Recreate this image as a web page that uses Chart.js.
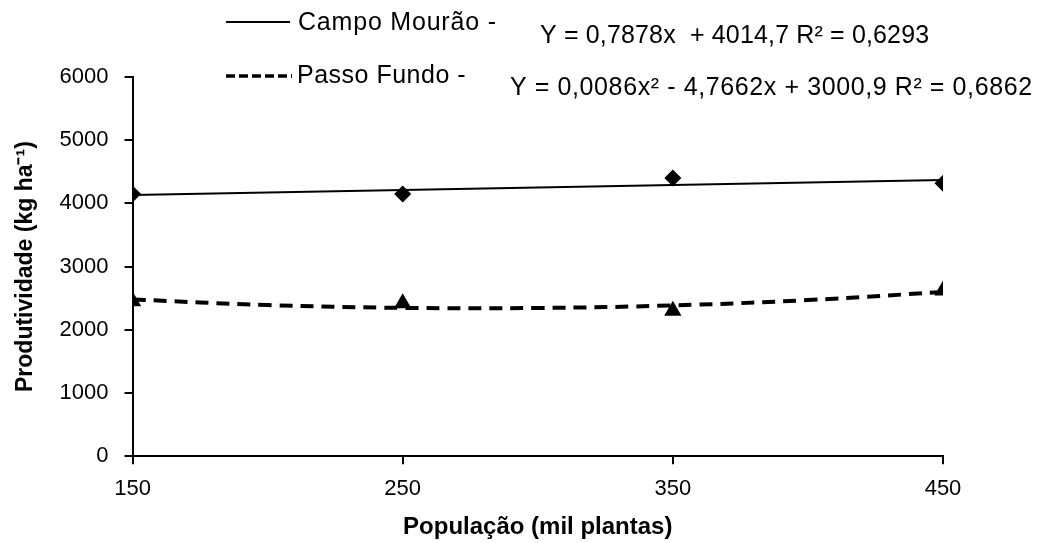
<!DOCTYPE html>
<html>
<head>
<meta charset="utf-8">
<script src="https://cdn.jsdelivr.net/npm/chart.js@4"></script>
<style>
  html, body { margin: 0; padding: 0; background: #fff; }
  #wrap { width: 1038px; height: 543px; }
</style>
</head>
<body>
<div id="wrap"><canvas id="myChart" width="1038" height="543"></canvas></div>
<script>
// population (mil plantas)
const populacao = [150, 250, 350, 450];
const campoMourao = [4150, 4150, 4400, 4320];
const passoFundo = [2450, 2420, 2300, 2620];
// trend lines
const campoTrendX = [150, 450];
const campoTrend = [4133, 4369];
const passoTrendX = [150, 200, 250, 300, 350, 400, 450];
const passoTrend = [2480, 2392, 2347, 2345, 2386, 2470, 2598];
const yTicks = [0, 1000, 2000, 3000, 4000, 5000, 6000];
const xTicks = [150, 250, 350, 450];

const FONT = '"Liberation Sans", Arial, sans-serif';
const toPoints = (xs, ys) => xs.map((x, i) => ({ x: x, y: ys[i] }));

const legendPlugin = {
    id: 'legendEq',
    afterDraw(chart) {
        const c = chart.ctx;
        c.save();
        c.strokeStyle = '#000';
        c.fillStyle = '#000';
        c.font = '25px ' + FONT;
        c.textBaseline = 'middle';

        // Campo Mourão
        c.lineWidth = 2;
        c.setLineDash([]);
        c.beginPath();
        c.moveTo(226, 22);
        c.lineTo(290, 22);
        c.stroke();
        c.letterSpacing = '0.8px';
        c.fillText('Campo Mourão -', 298, 23);
        c.letterSpacing = '0.15px';
        c.fillText('Y = 0,7878x  + 4014,7 R² = 0,6293', 540, 36);

        // Passo Fundo
        c.lineWidth = 3.5;
        c.setLineDash([9, 4]);
        c.beginPath();
        c.moveTo(226, 76);
        c.lineTo(292, 76);
        c.stroke();
        c.setLineDash([]);
        c.letterSpacing = '0.5px';
        c.fillText('Passo Fundo -', 297, 76);
        c.letterSpacing = '0.6px';
        c.fillText('Y = 0,0086x² - 4,7662x + 3000,9 R² = 0,6862', 510, 88);
        c.restore();
    }
};

const ctx = document.getElementById('myChart');

new Chart(ctx, {
    type: 'scatter',
    data: {
        datasets: [
            {
                label: 'Campo Mourão trend',
                data: toPoints(campoTrendX, campoTrend),
                showLine: true,
                borderColor: '#000',
                borderWidth: 2,
                pointRadius: 0
            },
            {
                label: 'Passo Fundo trend',
                data: toPoints(passoTrendX, passoTrend),
                showLine: true,
                borderColor: '#000',
                borderWidth: 4,
                borderDash: [13, 8],
                tension: 0.4,
                pointRadius: 0
            },
            {
                label: 'Campo Mourão',
                data: toPoints(populacao, campoMourao),
                pointStyle: 'rectRot',
                pointRadius: 8.5,
                backgroundColor: '#000',
                borderColor: '#000',
                borderWidth: 0
            },
            {
                label: 'Passo Fundo',
                data: toPoints(populacao, passoFundo),
                pointStyle: 'triangle',
                pointRadius: 10,
                backgroundColor: '#000',
                borderColor: '#000',
                borderWidth: 0
            }
        ]
    },
    options: {
        responsive: false,
        animation: false,
        devicePixelRatio: 1,
        layout: { padding: { top: 77, left: 4, right: 95, bottom: 0 } },
        plugins: {
            legend: { display: false },
            tooltip: { enabled: false }
        },
        scales: {
            x: {
                type: 'linear',
                min: 150,
                max: 450,
                afterBuildTicks: axis => { axis.ticks = xTicks.map(v => ({ value: v })); },
                border: { display: true, color: '#000', width: 2 },
                grid: { drawOnChartArea: false, drawTicks: true, tickLength: 8, color: '#000', lineWidth: 2 },
                ticks: {
                    color: '#000',
                    font: { family: FONT, size: 22 },
                    padding: 12,
                    maxRotation: 0,
                    callback: v => String(v)
                },
                title: {
                    display: true,
                    text: 'População (mil plantas)',
                    color: '#000',
                    font: { family: FONT, size: 24, weight: 'bold', lineHeight: 1.1 },
                    padding: { top: 0, bottom: 2 }
                }
            },
            y: {
                min: 0,
                max: 6000,
                afterBuildTicks: axis => { axis.ticks = yTicks.map(v => ({ value: v })); },
                border: { display: true, color: '#000', width: 2 },
                grid: { drawOnChartArea: false, drawTicks: true, tickLength: 8, color: '#000', lineWidth: 2 },
                ticks: {
                    color: '#000',
                    font: { family: FONT, size: 22 },
                    padding: 16,
                    callback: v => String(v)
                },
                title: {
                    display: true,
                    text: 'Produtividade (kg ha⁻¹)',
                    color: '#000',
                    font: { family: FONT, size: 23, weight: 'bold' },
                    padding: { top: 8, bottom: 4 }
                }
            }
        }
    },
    plugins: [legendPlugin]
});
</script>
</body>
</html>
